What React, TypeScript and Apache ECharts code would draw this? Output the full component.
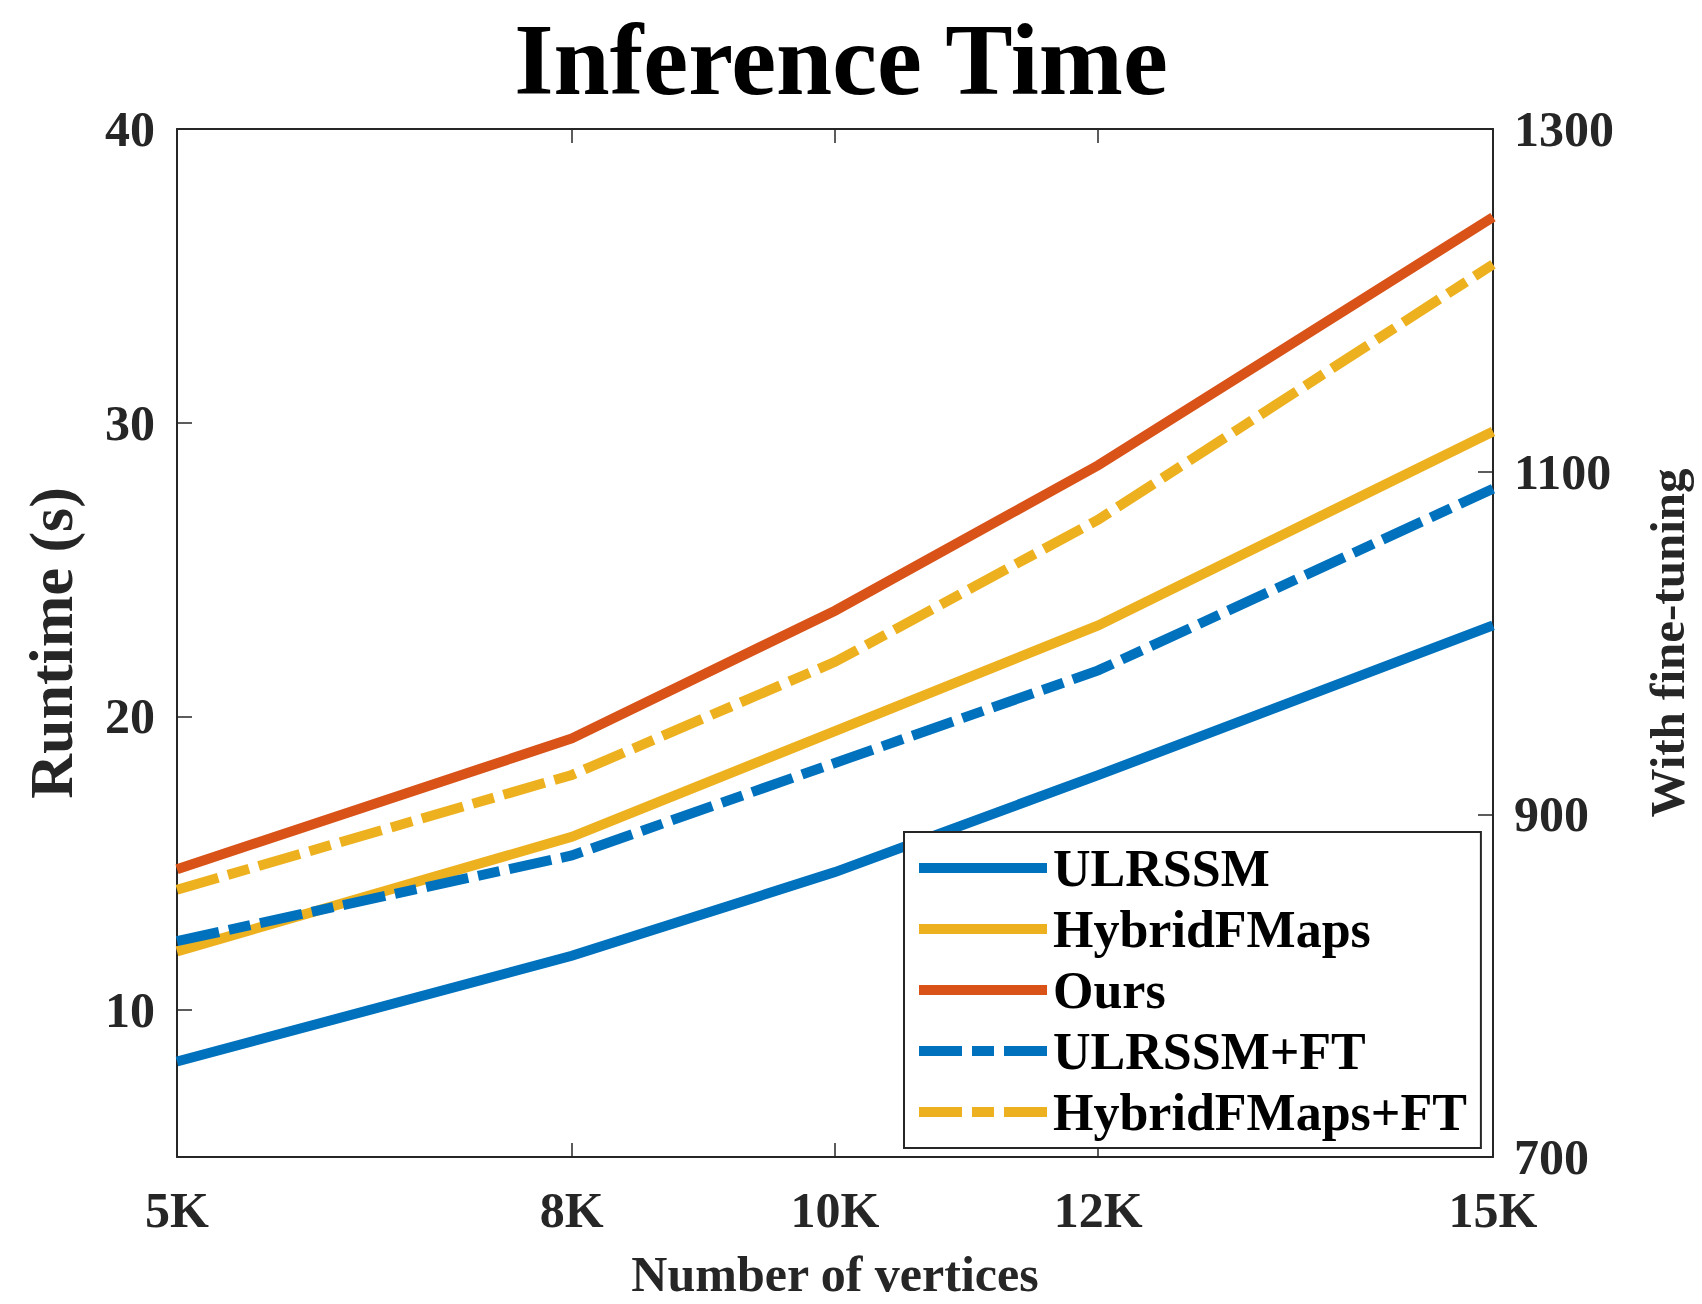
import React, { useEffect, useRef } from "react";
import * as echarts from "echarts";

// Mesh sizes (number of vertices) and their tick captions
const vertexCounts = [5000, 8000, 10000, 12000, 15000];
const xTickLabels = ["5K", "8K", "10K", "12K", "15K"];

// Runtime in seconds (left axis)
const ulrssm = [8.25, 11.85, 14.7, 18.0, 23.1];
const hybridFMaps = [12.0, 15.9, 19.5, 23.1, 29.7];
const ours = [14.8, 19.25, 23.6, 28.55, 37.0];

// Runtime with fine-tuning in seconds (right axis)
const ulrssmFT = [826, 876, 930, 984, 1090];
const hybridFMapsFT = [856, 923, 989, 1072, 1221];

// Axis ticks
const runtimeTicks = [10, 20, 30, 40];
const fineTuneTicks = [700, 900, 1100, 1300];

const FONT = "'Liberation Serif', 'Times New Roman', serif";
const AXIS_COLOR = "#262626";
const BLUE = "#0072BD";
const YELLOW = "#EDB120";
const RED = "#D95319";
const DASH_DOT = [43, 10, 22, 10];

const pairs = (ys: number[]) => vertexCounts.map((x, i) => [x, ys[i]]);

export default function App() {
  const ref = useRef<HTMLDivElement>(null);

  useEffect(() => {
    if (!ref.current) return;
    const chart = echarts.init(ref.current, undefined, { renderer: "svg" });

    const lineSeries = (
      name: string,
      ys: number[],
      color: string,
      yAxisIndex: number,
      dashed: boolean
    ) => ({
      name,
      type: "line",
      xAxisIndex: 0,
      yAxisIndex,
      data: pairs(ys),
      symbol: "none",
      showSymbol: false,
      lineStyle: {
        color,
        width: 10,
        type: dashed ? DASH_DOT : "solid",
        cap: "butt",
        join: "miter",
      },
      itemStyle: { color },
    });

    const tickStyle = { color: AXIS_COLOR, width: 1.5 };
    const axisLine = { show: true, onZero: false, lineStyle: { color: AXIS_COLOR, width: 2 } };
    const tickFont = { fontFamily: FONT, fontWeight: "bold", fontSize: 50, color: AXIS_COLOR };

    chart.setOption({
      animation: false,
      backgroundColor: "#ffffff",
      title: {
        text: "Inference Time",
        left: 836,
        textAlign: "center",
        top: 4,
        textStyle: { fontFamily: FONT, fontWeight: "bold", fontSize: 101, color: "#000000" },
      },
      grid: { left: 177, right: 209, top: 129, bottom: 147, outerBoundsMode: "none", containLabel: false },
      legend: {
        orient: "vertical",
        left: 904,
        top: 832,
        padding: [10, 14, 10, 10],
        itemWidth: 128,
        itemHeight: 0.01,
        itemGap: 9,
        backgroundColor: "#ffffff",
        borderColor: AXIS_COLOR,
        borderWidth: 2,
        itemStyle: { opacity: 0 },
        lineStyle: { width: 10, type: "inherit", cap: "butt" },
        textStyle: {
          fontFamily: FONT,
          fontWeight: "bold",
          fontSize: 52,
          color: "#000000",
          padding: [0, 0, 0, 1],
        },
        data: ["ULRSSM", "HybridFMaps", "Ours", "ULRSSM+FT", "HybridFMaps+FT"],
      },
      xAxis: [
        {
          type: "value",
          position: "bottom",
          min: 5000,
          max: 15000,
          name: "Number of vertices",
          nameLocation: "middle",
          nameGap: 92,
          nameTextStyle: { fontFamily: FONT, fontWeight: "bold", fontSize: 50, color: AXIS_COLOR },
          axisLine,
          axisTick: { show: true, inside: true, length: 14, customValues: [8000, 10000, 12000], lineStyle: tickStyle },
          axisLabel: {
            customValues: vertexCounts,
            formatter: (v: number) => xTickLabels[vertexCounts.indexOf(v)] ?? "",
            margin: 28,
            ...tickFont,
          },
          splitLine: { show: false },
        },
        {
          type: "value",
          position: "top",
          min: 5000,
          max: 15000,
          axisLine,
          axisTick: { show: true, inside: true, length: 14, customValues: [8000, 10000, 12000], lineStyle: tickStyle },
          axisLabel: { show: false },
          splitLine: { show: false },
        },
      ],
      yAxis: [
        {
          type: "value",
          position: "left",
          min: 5,
          max: 40,
          name: "Runtime (s)",
          nameLocation: "middle",
          nameRotate: 90,
          nameGap: 95,
          nameTextStyle: { fontFamily: FONT, fontWeight: "bold", fontSize: 62, color: AXIS_COLOR },
          axisLine,
          axisTick: { show: true, inside: true, length: 15, customValues: [10, 20, 30], lineStyle: tickStyle },
          axisLabel: {
            customValues: runtimeTicks,
            formatter: (v: number) => String(v),
            margin: 22,
            ...tickFont,
          },
          splitLine: { show: false },
        },
        {
          type: "value",
          position: "right",
          min: 700,
          max: 1300,
          name: "With fine-tuning",
          nameLocation: "middle",
          nameRotate: 90,
          nameGap: 150,
          nameTextStyle: { fontFamily: FONT, fontWeight: "bold", fontSize: 49, color: AXIS_COLOR },
          axisLine,
          axisTick: { show: true, inside: true, length: 15, customValues: [900, 1100], lineStyle: tickStyle },
          axisLabel: {
            customValues: fineTuneTicks,
            formatter: (v: number) => String(v),
            margin: 21,
            ...tickFont,
          },
          splitLine: { show: false },
        },
      ],
      series: [
        lineSeries("ULRSSM", ulrssm, BLUE, 0, false),
        lineSeries("HybridFMaps", hybridFMaps, YELLOW, 0, false),
        lineSeries("Ours", ours, RED, 0, false),
        lineSeries("ULRSSM+FT", ulrssmFT, BLUE, 1, true),
        lineSeries("HybridFMaps+FT", hybridFMapsFT, YELLOW, 1, true),
      ],
    });

    return () => chart.dispose();
  }, []);

  return (
    <div
      ref={ref}
      style={{ position: "fixed", left: 0, top: 0, width: 1702, height: 1304, background: "#fff" }}
    />
  );
}
